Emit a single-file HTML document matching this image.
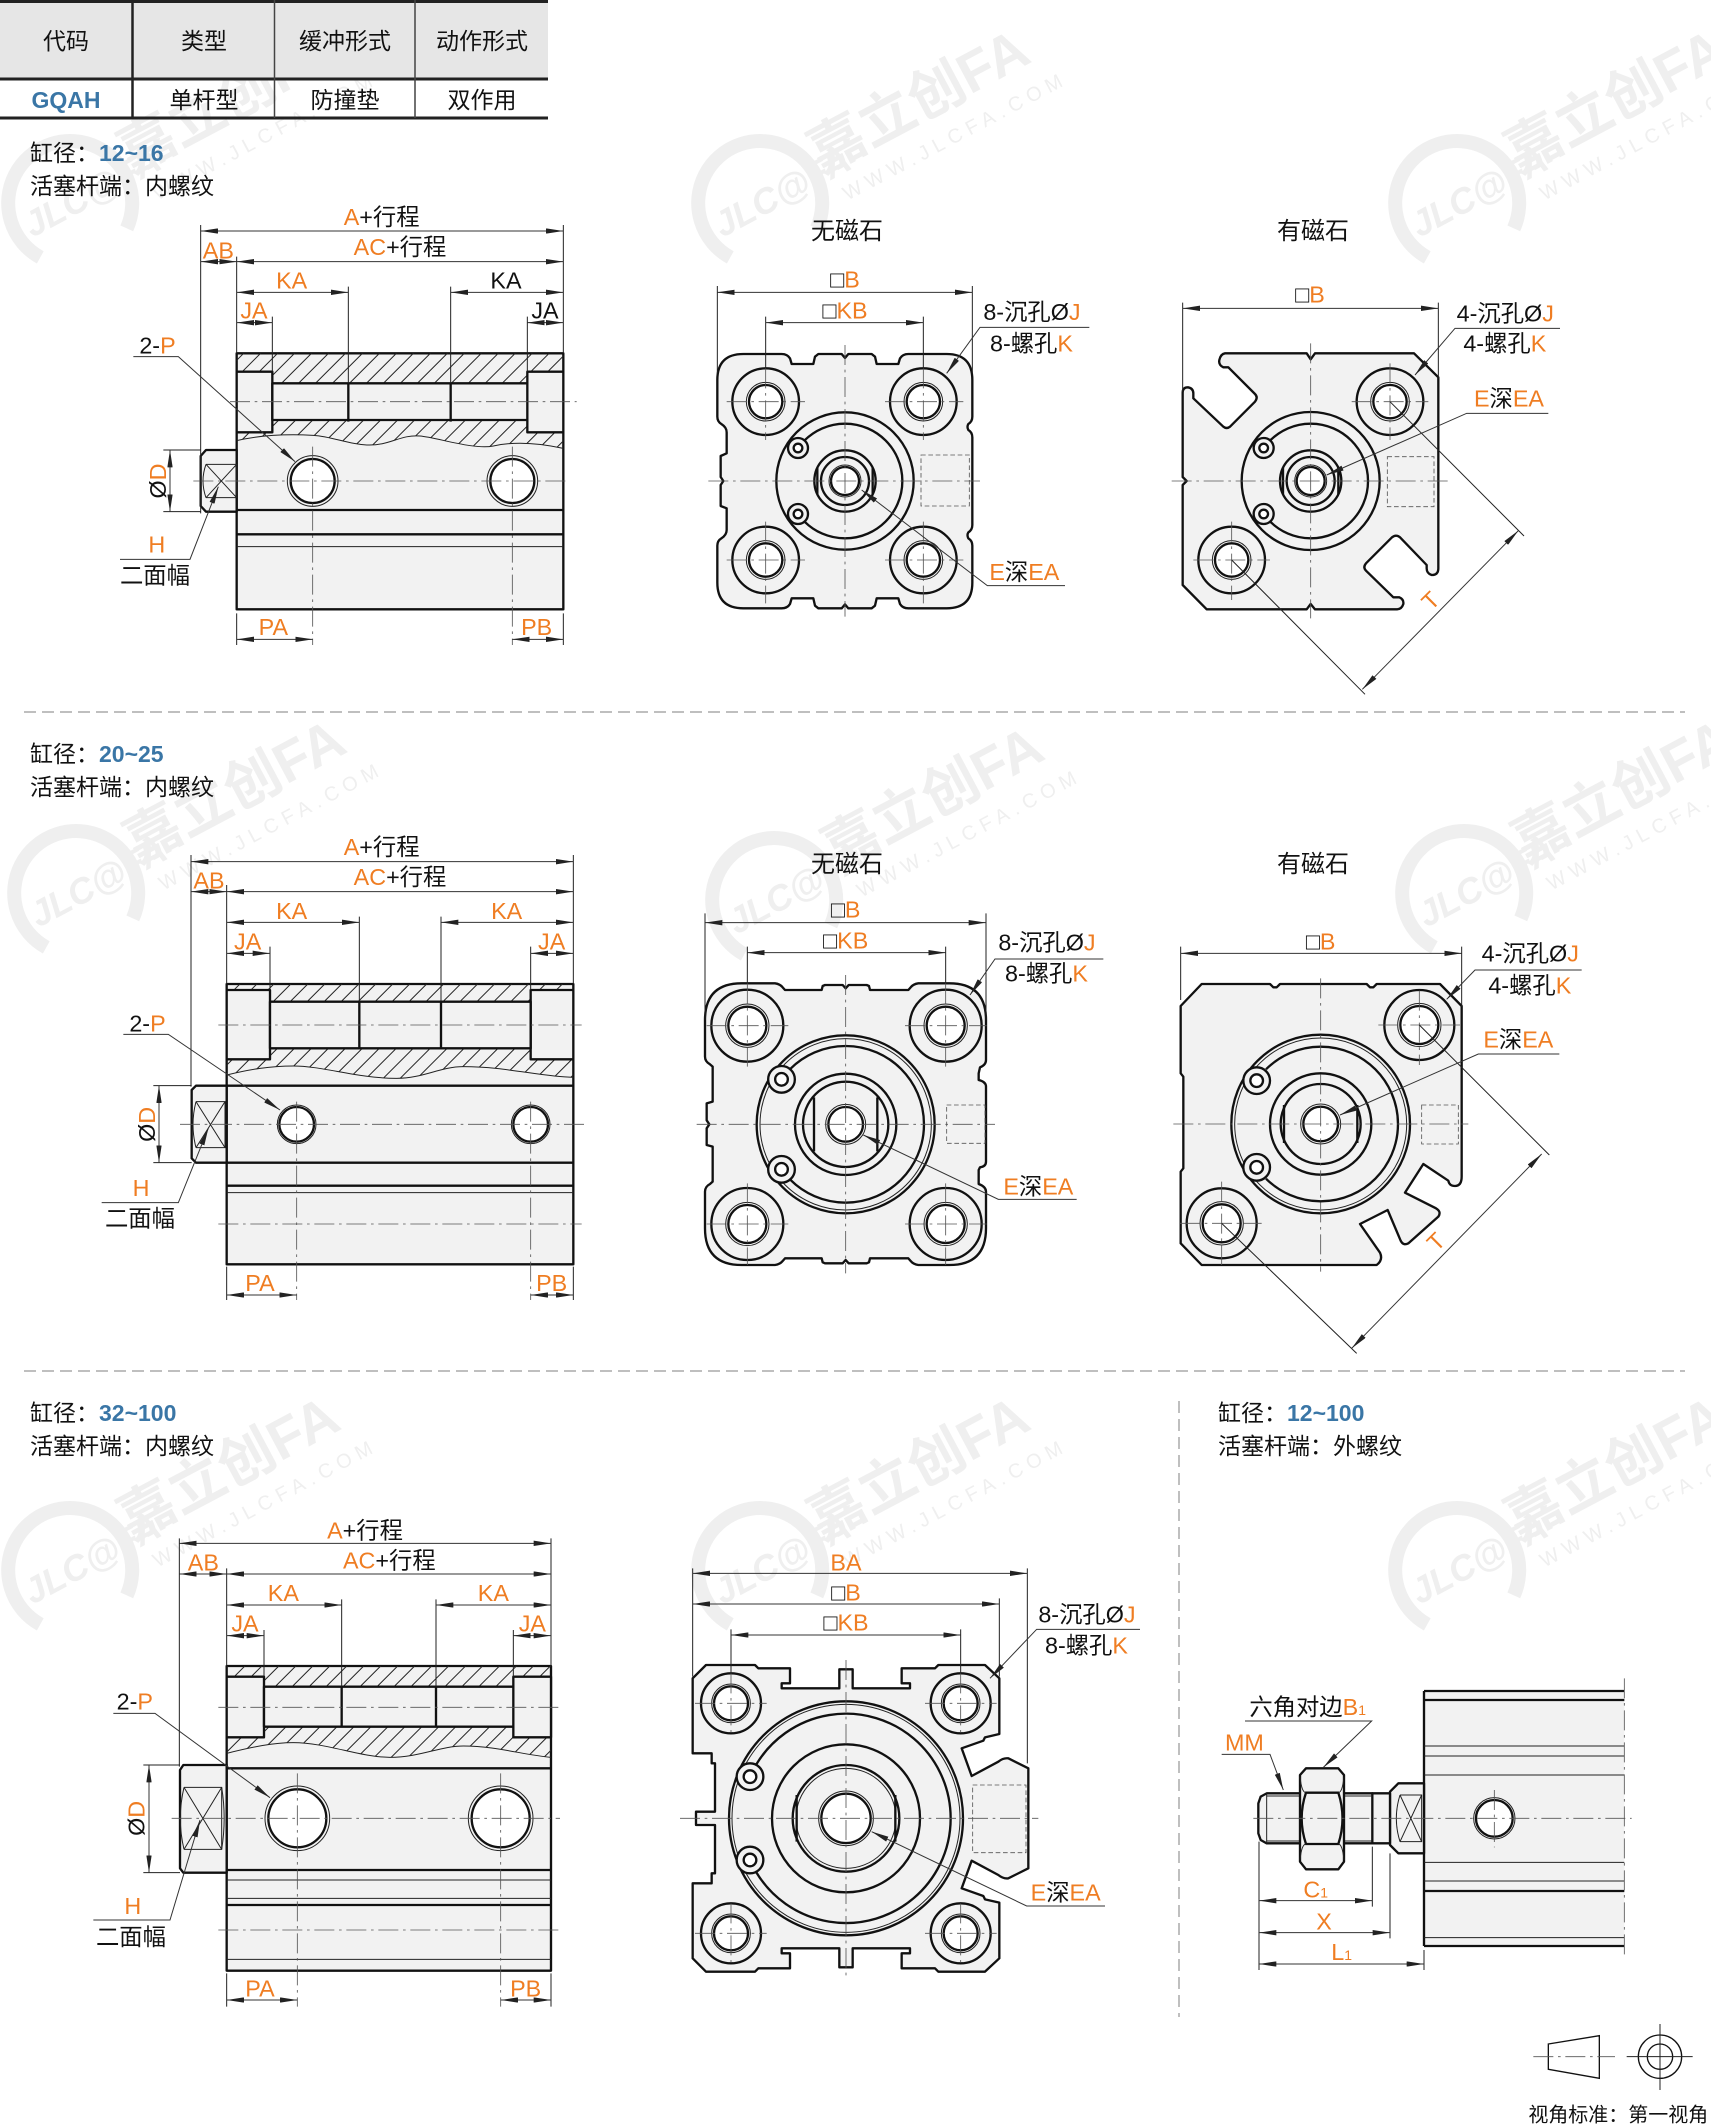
<!DOCTYPE html>
<html><head><meta charset="utf-8">
<style>
html,body{margin:0;padding:0;background:#fff;}
svg{display:block}
.o{fill:#f2f2f2;stroke:#111;stroke-width:7;stroke-linejoin:round}
.k{fill:none;stroke:#111;stroke-width:7}
.w{fill:#fff;stroke:#111;stroke-width:7}
.th{fill:none;stroke:#222;stroke-width:3}
.cl{fill:none;stroke:#555;stroke-width:2.5;stroke-dasharray:60 14 8 14}
.dash{fill:none;stroke:#555;stroke-width:2.5;stroke-dasharray:14 8}
.dm{fill:none;stroke:#333;stroke-width:3;marker-start:url(#ar);marker-end:url(#ar)}
.ld{fill:none;stroke:#333;stroke-width:3;marker-end:url(#ar)}
text{font-family:"Liberation Sans","Noto Sans CJK SC",sans-serif;fill:#111}
.L{font-size:70px}
.or{fill:#ef7d22}
.bl{fill:#3a76a6}
.wm text{fill:#efefef}
</style></head><body>
<svg width="1711" height="2127" viewBox="0 0 1711 2127" xmlns="http://www.w3.org/2000/svg">
<defs>
<marker id="ar" viewBox="0 0 52 16" refX="52" refY="8" markerWidth="52" markerHeight="16" orient="auto-start-reverse" markerUnits="userSpaceOnUse"><path d="M0,0 L52,8 L0,16 Z" fill="#222"/></marker>
<pattern id="hatch" patternUnits="userSpaceOnUse" width="36" height="36" patternTransform="rotate(45)"><line x1="18" y1="0" x2="18" y2="36" stroke="#222" stroke-width="3"/></pattern>
</defs>

<!-- watermarks -->
<g class="wm">
<g transform="translate(68,203) rotate(-28)"><path d="M-50,35 A62,62 0 1 1 40,50" fill="none" stroke="#efefef" stroke-width="14"/><text x="-48" y="14" font-size="36" font-weight="bold" font-style="italic">JLC@FA</text><text x="70" y="4" font-size="56" font-weight="bold">嘉立创FA</text><text x="80" y="40" font-size="20" letter-spacing="6">WWW.JLCFA.COM</text></g>
<g transform="translate(758,203) rotate(-28)"><path d="M-50,35 A62,62 0 1 1 40,50" fill="none" stroke="#efefef" stroke-width="14"/><text x="-48" y="14" font-size="36" font-weight="bold" font-style="italic">JLC@FA</text><text x="70" y="4" font-size="56" font-weight="bold">嘉立创FA</text><text x="80" y="40" font-size="20" letter-spacing="6">WWW.JLCFA.COM</text></g>
<g transform="translate(1455,203) rotate(-28)"><path d="M-50,35 A62,62 0 1 1 40,50" fill="none" stroke="#efefef" stroke-width="14"/><text x="-48" y="14" font-size="36" font-weight="bold" font-style="italic">JLC@FA</text><text x="70" y="4" font-size="56" font-weight="bold">嘉立创FA</text><text x="80" y="40" font-size="20" letter-spacing="6">WWW.JLCFA.COM</text></g>
<g transform="translate(74,893) rotate(-28)"><path d="M-50,35 A62,62 0 1 1 40,50" fill="none" stroke="#efefef" stroke-width="14"/><text x="-48" y="14" font-size="36" font-weight="bold" font-style="italic">JLC@FA</text><text x="70" y="4" font-size="56" font-weight="bold">嘉立创FA</text><text x="80" y="40" font-size="20" letter-spacing="6">WWW.JLCFA.COM</text></g>
<g transform="translate(772,900) rotate(-28)"><path d="M-50,35 A62,62 0 1 1 40,50" fill="none" stroke="#efefef" stroke-width="14"/><text x="-48" y="14" font-size="36" font-weight="bold" font-style="italic">JLC@FA</text><text x="70" y="4" font-size="56" font-weight="bold">嘉立创FA</text><text x="80" y="40" font-size="20" letter-spacing="6">WWW.JLCFA.COM</text></g>
<g transform="translate(1462,893) rotate(-28)"><path d="M-50,35 A62,62 0 1 1 40,50" fill="none" stroke="#efefef" stroke-width="14"/><text x="-48" y="14" font-size="36" font-weight="bold" font-style="italic">JLC@FA</text><text x="70" y="4" font-size="56" font-weight="bold">嘉立创FA</text><text x="80" y="40" font-size="20" letter-spacing="6">WWW.JLCFA.COM</text></g>
<g transform="translate(68,1570) rotate(-28)"><path d="M-50,35 A62,62 0 1 1 40,50" fill="none" stroke="#efefef" stroke-width="14"/><text x="-48" y="14" font-size="36" font-weight="bold" font-style="italic">JLC@FA</text><text x="70" y="4" font-size="56" font-weight="bold">嘉立创FA</text><text x="80" y="40" font-size="20" letter-spacing="6">WWW.JLCFA.COM</text></g>
<g transform="translate(758,1570) rotate(-28)"><path d="M-50,35 A62,62 0 1 1 40,50" fill="none" stroke="#efefef" stroke-width="14"/><text x="-48" y="14" font-size="36" font-weight="bold" font-style="italic">JLC@FA</text><text x="70" y="4" font-size="56" font-weight="bold">嘉立创FA</text><text x="80" y="40" font-size="20" letter-spacing="6">WWW.JLCFA.COM</text></g>
<g transform="translate(1455,1570) rotate(-28)"><path d="M-50,35 A62,62 0 1 1 40,50" fill="none" stroke="#efefef" stroke-width="14"/><text x="-48" y="14" font-size="36" font-weight="bold" font-style="italic">JLC@FA</text><text x="70" y="4" font-size="56" font-weight="bold">嘉立创FA</text><text x="80" y="40" font-size="20" letter-spacing="6">WWW.JLCFA.COM</text></g>
</g>

<!-- table -->
<rect x="0" y="0" width="548" height="79" fill="#e6e6e6"/>
<path d="M0,1.5H548M0,79H548M0,118H548" stroke="#222" stroke-width="3"/>
<path d="M132.5,0V118" stroke="#222" stroke-width="2.5"/>
<path d="M274.5,0V118M415,0V118" stroke="#444" stroke-width="1.5"/>
<g font-size="23" text-anchor="middle">
<text x="66" y="49">代码</text><text x="204" y="49">类型</text><text x="345" y="49">缓冲形式</text><text x="482" y="49">动作形式</text>
<text x="66" y="108" class="bl" font-weight="bold">GQAH</text><text x="204" y="108">单杆型</text><text x="345" y="108">防撞垫</text><text x="482" y="108">双作用</text>
</g>

<!-- headings -->
<g font-size="23">
<text x="30" y="161">缸径：<tspan class="bl" font-weight="bold">12~16</tspan></text>
<text x="30" y="194">活塞杆端：内螺纹</text>
<text x="30" y="762">缸径：<tspan class="bl" font-weight="bold">20~25</tspan></text>
<text x="30" y="795">活塞杆端：内螺纹</text>
<text x="30" y="1421">缸径：<tspan class="bl" font-weight="bold">32~100</tspan></text>
<text x="30" y="1454">活塞杆端：内螺纹</text>
<text x="1218" y="1421">缸径：<tspan class="bl" font-weight="bold">12~100</tspan></text>
<text x="1218" y="1454">活塞杆端：外螺纹</text>
</g>
<g font-size="24" text-anchor="middle">
<text x="847" y="239">无磁石</text><text x="1313" y="239">有磁石</text>
<text x="847" y="872">无磁石</text><text x="1313" y="872">有磁石</text>
</g>

<!-- separators -->
<path d="M24,712H1685M24,1371H1685" stroke="#aaa" stroke-width="1.5" stroke-dasharray="12 6"/>
<path d="M1179,1401V2017" stroke="#aaa" stroke-width="1.5" stroke-dasharray="12 6"/>

<!-- ============ SIDE VIEW 1 ============ -->
<g transform="translate(100,200) scale(0.333333)">
<rect x="410" y="460" width="980" height="768" class="o"/>
<path d="M410,460H1390V745C1330,732 1250,722 1180,738C1120,750 1010,712 960,708C900,703 870,738 800,735C740,732 700,710 640,706C560,702 480,705 410,722Z" fill="url(#hatch)"/>
<path d="M410,722C480,705 560,702 640,706C700,710 740,732 800,735C870,738 900,703 960,708C1010,712 1120,750 1180,738C1250,722 1330,732 1390,745" class="th"/>
<rect x="410" y="515" width="107" height="182" class="o"/>
<rect x="1282" y="515" width="108" height="182" class="o"/>
<rect x="517" y="550" width="765" height="110" class="o"/>
<path d="M745,550V665M1052,550V665" class="k"/>
<path d="M410,930H1390M410,1003H1390" class="k" stroke-width="6"/>
<path d="M410,1040H1390" class="th"/>
<circle cx="638" cy="843" r="76" class="th"/><circle cx="638" cy="843" r="66" class="w"/>
<circle cx="1237" cy="843" r="76" class="th"/><circle cx="1237" cy="843" r="66" class="w"/>
<path d="M410,750H318L302,768V918L318,935H410Z" class="o"/>
<path d="M318,793H410V893H318" class="th"/><path d="M318,793Q300,843 318,893" class="th"/>
<path d="M318,793L410,893M318,893L410,793" class="th"/>
<path d="M390,605H1430M280,843H1410M638,740V1335M1237,740V1335" class="cl"/>
<path d="M302,75V940M410,170V460M1390,75V460M745,260V550M1052,260V550M517,350V515M1282,350V515M410,1240V1335M1390,1240V1335M190,750H302M190,935H302" class="th"/>
<path d="M302,93H1390" class="dm"/>
<text x="845" y="75" text-anchor="middle" class="L"><tspan class="or">A</tspan>+行程</text>
<path d="M410,185H1390" class="dm"/>
<text x="900" y="165" text-anchor="middle" class="L"><tspan class="or">AC</tspan>+行程</text>
<path d="M302,185H410" class="dm"/>
<text x="355" y="175" text-anchor="middle" class="L or">AB</text>
<path d="M410,277H745" class="dm"/><text x="575" y="265" text-anchor="middle" class="L or">KA</text>
<path d="M1052,277H1390" class="dm"/><text x="1218" y="265" text-anchor="middle" class="L">KA</text>
<path d="M410,368H517" class="dm"/><text x="462" y="355" text-anchor="middle" class="L or">JA</text>
<path d="M1282,368H1390" class="dm"/><text x="1335" y="355" text-anchor="middle" class="L">JA</text>
<path d="M410,1318H638" class="dm"/><text x="520" y="1305" text-anchor="middle" class="L or">PA</text>
<path d="M1237,1318H1390" class="dm"/><text x="1310" y="1305" text-anchor="middle" class="L or">PB</text>
<path d="M210,750V935" class="dm"/>
<text transform="translate(198,843) rotate(-90)" text-anchor="middle" class="L">Ø<tspan class="or">D</tspan></text>
<text x="118" y="460" class="L">2-<tspan class="or">P</tspan></text>
<path d="M100,470H235L585,785" class="ld"/>
<text x="145" y="1058" class="L or">H</text>
<text x="60" y="1150" class="L">二面幅</text>
<path d="M60,1078H270L355,860" class="ld"/>
</g>

<!-- ============ FRONT 1a (无磁石) ============ -->
<g transform="translate(700,200) scale(0.333333)">
<path class="o" d="M130,462 L245,462 Q262,462 270,475 L275,492 L340,492 L345,470 L355,462 L425,462 L435,474 L445,462 L515,462 L525,470 L530,492 L595,492 L600,475 Q608,462 625,462 L740,462 Q817,462 817,540 L817,650 Q817,665 805,672 Q800,680 805,690 Q817,697 817,712 L817,975 Q817,990 805,997 Q800,1005 805,1015 Q817,1022 817,1037 L817,1148 Q817,1225 740,1225 L625,1225 Q608,1225 600,1212 L595,1195 L530,1195 L525,1217 L515,1225 L445,1225 L435,1213 L425,1225 L355,1225 L345,1217 L340,1195 L275,1195 L270,1212 Q262,1225 245,1225 L130,1225 Q52,1225 52,1148 L52,1037 Q52,1022 64,1015 Q80,1005 80,990 L80,925 L62,918 L62,855 L70,843 L62,831 L62,768 L80,760 L80,697 Q80,682 64,672 Q52,665 52,650 L52,540 Q52,462 130,462 Z"/>
<g class="k"><circle cx="197" cy="605" r="100"/><circle cx="670" cy="605" r="100"/><circle cx="197" cy="1080" r="100"/><circle cx="670" cy="1080" r="100"/></g>
<g class="th"><circle cx="197" cy="605" r="58"/><circle cx="670" cy="605" r="58"/><circle cx="197" cy="1080" r="58"/><circle cx="670" cy="1080" r="58"/></g>
<g class="w"><circle cx="197" cy="605" r="50"/><circle cx="670" cy="605" r="50"/><circle cx="197" cy="1080" r="50"/><circle cx="670" cy="1080" r="50"/></g>
<circle cx="435" cy="843" r="206" class="k"/>
<path class="k" d="M313.4,721.4 A172,172 0 1 1 313.4,964.6"/>
<circle cx="294" cy="744" r="30" class="o"/><circle cx="294" cy="744" r="13" class="w" stroke-width="5"/>
<circle cx="294" cy="942" r="30" class="o"/><circle cx="294" cy="942" r="13" class="w" stroke-width="5"/>
<circle cx="435" cy="843" r="92" class="k"/>
<path d="M352,803V883M518,803V883" class="k"/>
<circle cx="435" cy="843" r="72" class="k"/>
<circle cx="435" cy="843" r="48" class="th"/>
<circle cx="435" cy="843" r="42" class="w"/>
<rect x="663" y="765" width="145" height="153" class="dash"/>
<path d="M25,843H840M435,435V1250M80,605H315M555,605H790M80,1080H315M555,1080H790M197,505V720M197,965V1210M670,505V720M670,965V1210" class="cl"/>
<path d="M52,258V520M817,258V520M197,350V505M670,350V505" class="th"/>
<path d="M52,277H817" class="dm"/>
<text x="435" y="262" text-anchor="middle" class="L">□<tspan class="or">B</tspan></text>
<path d="M197,368H670" class="dm"/>
<text x="435" y="355" text-anchor="middle" class="L">□<tspan class="or">KB</tspan></text>
<text x="850" y="360" class="L">8-沉孔Ø<tspan class="or">J</tspan></text>
<text x="870" y="455" class="L">8-螺孔<tspan class="or">K</tspan></text>
<path d="M1168,382H840L740,520" class="ld"/>
<text x="868" y="1140" class="L"><tspan class="or">E</tspan>深<tspan class="or">EA</tspan></text>
<path d="M1095,1157H862L485,870" class="ld"/>
</g>

<!-- ============ FRONT 1b (有磁石) ============ -->
<g transform="translate(1160,260) scale(0.333333)">
<path class="o" d="M195,280 L440,280 L452,298 L465,280 L762,280 L835,352 L835,925 Q835,945 815,945 Q800,940 800,925 L800,915 L720,832 Q708,822 696,832 L618,910 Q608,922 618,932 L700,1012 L718,1012 Q732,1018 730,1032 Q725,1048 710,1048 L465,1048 L452,1032 L440,1048 L140,1048 L68,975 L68,675 L80,663 L68,651 L68,398 Q68,382 84,382 Q100,385 100,400 L100,415 L190,500 Q200,508 210,500 L285,425 Q295,412 285,402 L205,322 L190,322 Q175,315 178,300 Q182,282 195,280 Z"/>
<circle cx="690" cy="425" r="100" class="k"/><circle cx="215" cy="900" r="100" class="k"/>
<circle cx="690" cy="425" r="58" class="th"/><circle cx="215" cy="900" r="58" class="th"/>
<circle cx="690" cy="425" r="50" class="w"/><circle cx="215" cy="900" r="50" class="w"/>
<circle cx="452" cy="663" r="207" class="k"/>
<path class="k" d="M330.4,541.4 A172,172 0 1 1 330.4,784.6"/>
<circle cx="311" cy="564" r="30" class="o"/><circle cx="311" cy="564" r="13" class="w" stroke-width="5"/>
<circle cx="311" cy="762" r="30" class="o"/><circle cx="311" cy="762" r="13" class="w" stroke-width="5"/>
<circle cx="452" cy="663" r="92" class="k"/>
<path d="M369,623V703M535,623V703" class="k"/>
<circle cx="452" cy="663" r="72" class="k"/>
<circle cx="452" cy="663" r="48" class="th"/>
<circle cx="452" cy="663" r="42" class="w"/>
<rect x="682" y="590" width="140" height="150" class="dash"/>
<path d="M35,663H870M452,250V1075M575,425H805M690,310V540M100,900H330M215,785V1020" class="cl"/>
<path d="M68,128V395M835,128V355M690,425L1092,828M215,900L615,1303" class="th"/>
<path d="M68,145H835" class="dm"/>
<text x="450" y="128" text-anchor="middle" class="L">□<tspan class="or">B</tspan></text>
<path d="M1075,812L607,1288" class="dm"/>
<text transform="translate(829,1039) rotate(-45)" text-anchor="middle" class="L or">T</text>
<text x="890" y="185" class="L">4-沉孔Ø<tspan class="or">J</tspan></text>
<text x="910" y="275" class="L">4-螺孔<tspan class="or">K</tspan></text>
<path d="M1200,205H885L765,345" class="ld"/>
<text x="942" y="440" class="L"><tspan class="or">E</tspan>深<tspan class="or">EA</tspan></text>
<path d="M1165,460H920L500,645" class="ld"/>
</g>

<!-- ============ SIDE VIEW 2 ============ -->
<g transform="translate(90,820) scale(0.333333)">
<rect x="410" y="492" width="1040" height="841" class="o"/>
<path d="M410,492H1450V772C1350,770 1250,740 1120,740C1050,740 1000,775 920,775C800,775 700,738 610,738C540,738 480,748 410,765Z" fill="url(#hatch)"/>
<path d="M410,765C480,748 540,738 610,738C700,738 800,775 920,775C1000,775 1050,740 1120,740C1250,740 1350,770 1450,772" class="th"/>
<rect x="410" y="510" width="130" height="208" class="o"/>
<rect x="1322" y="510" width="128" height="208" class="o"/>
<rect x="540" y="545" width="782" height="140" class="o"/>
<path d="M808,545V685M1053,545V685" class="k"/>
<path d="M410,797H1450M410,1028H1450M410,1097H1450" class="k" stroke-width="6"/>
<path d="M410,1118H1450" class="th"/>
<circle cx="620" cy="913" r="58" class="th"/><circle cx="620" cy="913" r="52" class="w"/>
<circle cx="1322" cy="913" r="58" class="th"/><circle cx="1322" cy="913" r="52" class="w"/>
<path d="M410,797H318L305,810V1015L318,1028H410Z" class="o"/>
<path d="M318,845H405V983H318" class="th"/><path d="M318,845Q300,914 318,983" class="th"/>
<path d="M318,845L405,983M318,983L405,845" class="th"/>
<path d="M385,615H1475M270,913H1490M385,1212H1475M620,845V1440M1322,845V1440" class="cl"/>
<path d="M303,105V800M410,195V492M1450,105V492M808,290V545M1053,290V545M540,380V510M1322,380V510M410,1340V1440M1450,1340V1440M190,797H305M190,1028H305" class="th"/>
<path d="M303,125H1450" class="dm"/>
<text x="875" y="105" text-anchor="middle" class="L"><tspan class="or">A</tspan>+行程</text>
<path d="M410,215H1450" class="dm"/>
<text x="930" y="195" text-anchor="middle" class="L"><tspan class="or">AC</tspan>+行程</text>
<path d="M303,215H410" class="dm"/>
<text x="357" y="205" text-anchor="middle" class="L or">AB</text>
<path d="M410,307H808" class="dm"/><text x="605" y="297" text-anchor="middle" class="L or">KA</text>
<path d="M1053,307H1450" class="dm"/><text x="1250" y="297" text-anchor="middle" class="L or">KA</text>
<path d="M410,400H540" class="dm"/><text x="473" y="388" text-anchor="middle" class="L or">JA</text>
<path d="M1322,400H1450" class="dm"/><text x="1385" y="388" text-anchor="middle" class="L or">JA</text>
<path d="M410,1425H620" class="dm"/><text x="510" y="1413" text-anchor="middle" class="L or">PA</text>
<path d="M1322,1425H1450" class="dm"/><text x="1385" y="1413" text-anchor="middle" class="L or">PB</text>
<path d="M207,797V1028" class="dm"/>
<text transform="translate(195,913) rotate(-90)" text-anchor="middle" class="L">Ø<tspan class="or">D</tspan></text>
<text x="118" y="635" class="L">2-<tspan class="or">P</tspan></text>
<path d="M100,643H235L570,870" class="ld"/>
<text x="128" y="1128" class="L or">H</text>
<text x="45" y="1220" class="L">二面幅</text>
<path d="M35,1148H265L355,925" class="ld"/>
</g>

<!-- ============ FRONT 2a (无磁石) ============ -->
<g transform="translate(690,880) scale(0.333333)">
<path class="o" d="M155,310 L255,310 Q270,312 278,322 L285,330 L395,330 L398,318 L405,315 L458,315 L467,325 L476,315 L530,315 L537,318 L540,330 L655,330 L662,322 Q670,312 685,310 L778,310 Q888,310 888,420 L888,540 Q888,555 870,562 L866,580 L866,600 Q888,605 888,620 L888,845 Q888,860 870,862 L866,870 L866,912 Q888,920 888,935 L888,1045 Q888,1155 778,1155 L685,1155 Q670,1153 662,1143 L655,1135 L540,1135 L537,1147 L530,1150 L476,1150 L467,1140 L458,1150 L405,1150 L398,1147 L395,1135 L285,1135 L278,1143 Q270,1153 255,1155 L155,1155 Q45,1155 45,1045 L45,935 Q45,920 60,912 L68,905 L68,800 L50,795 L50,745 L58,733 L50,721 L50,670 L68,665 L68,560 L60,553 Q45,545 45,530 L45,420 Q45,310 155,310 Z"/>
<g class="k"><circle cx="172" cy="437" r="108"/><circle cx="767" cy="437" r="108"/><circle cx="172" cy="1032" r="108"/><circle cx="767" cy="1032" r="108"/></g>
<g class="th"><circle cx="172" cy="437" r="65"/><circle cx="767" cy="437" r="65"/><circle cx="172" cy="1032" r="65"/><circle cx="767" cy="1032" r="65"/></g>
<g class="w"><circle cx="172" cy="437" r="57"/><circle cx="767" cy="437" r="57"/><circle cx="172" cy="1032" r="57"/><circle cx="767" cy="1032" r="57"/></g>
<circle cx="467" cy="733" r="267" class="k"/>
<circle cx="467" cy="733" r="257" class="th"/>
<path class="k" d="M300.8,566.8 A235,235 0 1 1 300.8,899.2"/>
<circle cx="274.5" cy="598" r="40" class="o"/><circle cx="274.5" cy="598" r="19" class="w" stroke-width="5"/>
<circle cx="274.5" cy="868" r="40" class="o"/><circle cx="274.5" cy="868" r="19" class="w" stroke-width="5"/>
<circle cx="467" cy="733" r="152" class="k"/>
<circle cx="467" cy="733" r="128" class="k"/>
<path d="M372,652V814M562,652V814" class="k"/>
<circle cx="467" cy="733" r="60" class="th"/>
<circle cx="467" cy="733" r="52" class="w"/>
<rect x="770" y="675" width="115" height="115" class="dash"/>
<path d="M20,733H915M467,285V1180M50,437H295M645,437H890M50,1032H295M645,1032H890M172,310V560M172,910V1155M767,310V560M767,910V1155" class="cl"/>
<path d="M45,100V420M888,100V420M172,200V310M767,200V310" class="th"/>
<path d="M45,128H888" class="dm"/>
<text x="467" y="112" text-anchor="middle" class="L">□<tspan class="or">B</tspan></text>
<path d="M172,218H767" class="dm"/>
<text x="467" y="205" text-anchor="middle" class="L">□<tspan class="or">KB</tspan></text>
<text x="925" y="212" class="L">8-沉孔Ø<tspan class="or">J</tspan></text>
<text x="945" y="305" class="L">8-螺孔<tspan class="or">K</tspan></text>
<path d="M1240,237H915L840,345" class="ld"/>
<text x="940" y="943" class="L"><tspan class="or">E</tspan>深<tspan class="or">EA</tspan></text>
<path d="M1160,958H925L520,765" class="ld"/>
</g>

<!-- ============ FRONT 2b (有磁石) ============ -->
<g transform="translate(1160,900) scale(0.333333)">
<path class="o" d="M125,252 L330,252 L340,262 L350,262 L360,252 L620,252 L630,262 L640,262 L650,252 L840,252 L905,318 L905,830 Q905,858 885,858 Q868,858 865,842 L790,792 L735,878 L828,925 Q845,935 835,950 L745,1030 Q730,1038 722,1022 L683,930 L600,972 L660,1058 Q670,1080 650,1095 L125,1095 L62,1030 L62,815 L70,805 L70,530 L62,520 L62,318 Z"/>
<circle cx="778" cy="375" r="105" class="k"/><circle cx="185" cy="970" r="105" class="k"/>
<circle cx="778" cy="375" r="65" class="th"/><circle cx="185" cy="970" r="65" class="th"/>
<circle cx="778" cy="375" r="57" class="w"/><circle cx="185" cy="970" r="57" class="w"/>
<circle cx="482" cy="672" r="268" class="k"/>
<circle cx="482" cy="672" r="258" class="th"/>
<path class="k" d="M318,508 A232,232 0 1 1 318,836"/>
<circle cx="290" cy="542" r="40" class="o"/><circle cx="290" cy="542" r="19" class="w" stroke-width="5"/>
<circle cx="290" cy="802" r="40" class="o"/><circle cx="290" cy="802" r="19" class="w" stroke-width="5"/>
<circle cx="482" cy="672" r="152" class="k"/>
<circle cx="482" cy="672" r="120" class="k"/>
<path d="M372,615V729M592,615V729" class="k"/>
<circle cx="482" cy="672" r="60" class="th"/>
<circle cx="482" cy="672" r="52" class="w"/>
<rect x="785" y="615" width="110" height="117" class="dash"/>
<path d="M40,672H925M482,235V1115M655,375H900M778,272V495M60,970H305M185,845V1095" class="cl"/>
<path d="M62,140V300M905,140V320M778,375L1168,765M185,970L590,1360" class="th"/>
<path d="M62,160H905" class="dm"/>
<text x="482" y="148" text-anchor="middle" class="L">□<tspan class="or">B</tspan></text>
<path d="M1145,762L575,1345" class="dm"/>
<text transform="translate(845,1042) rotate(-45)" text-anchor="middle" class="L or">T</text>
<text x="965" y="185" class="L">4-沉孔Ø<tspan class="or">J</tspan></text>
<text x="985" y="280" class="L">4-螺孔<tspan class="or">K</tspan></text>
<path d="M1265,210H945L860,298" class="ld"/>
<text x="970" y="443" class="L"><tspan class="or">E</tspan>深<tspan class="or">EA</tspan></text>
<path d="M1198,462H955L540,645" class="ld"/>
</g>

<!-- ============ SIDE VIEW 3 ============ -->
<g transform="translate(80,1500) scale(0.333333)">
<rect x="440" y="498" width="973" height="914" class="o"/>
<path d="M440,498H1413V772C1330,765 1250,738 1150,738C1080,738 1020,772 930,772C840,772 740,728 640,728C580,728 520,740 440,760Z" fill="url(#hatch)"/>
<path d="M440,760C520,740 580,728 640,728C740,728 840,772 930,772C1020,772 1080,738 1150,738C1250,738 1330,765 1413,772" class="th"/>
<rect x="440" y="530" width="112" height="182" class="o"/>
<rect x="1300" y="530" width="113" height="182" class="o"/>
<rect x="552" y="560" width="748" height="120" class="o"/>
<path d="M785,560V680M1068,560V680" class="k"/>
<path d="M440,805H1413M440,1110H1413M440,1215H1413" class="k" stroke-width="6"/>
<path d="M440,1140H1413M440,1195H1413M440,1378H1413" class="th"/>
<circle cx="652" cy="955" r="97" class="th"/><circle cx="652" cy="955" r="87" class="w"/>
<circle cx="1262" cy="955" r="97" class="th"/><circle cx="1262" cy="955" r="87" class="w"/>
<path d="M440,795H310L300,810V1105L310,1118H440Z" class="o"/>
<path d="M312,862H425V1048H312" class="th"/><path d="M312,862Q290,955 312,1048M425,862Q440,955 425,1048" class="th"/>
<path d="M312,862L425,1048M312,1048L425,862" class="th"/>
<path d="M415,622H1440M275,955H1440M415,1290H1440M652,820V1520M1262,820V1520" class="cl"/>
<path d="M298,115V800M440,205V498M1413,115V498M785,298V560M1068,298V560M552,390V530M1300,390V530M440,1420V1520M1413,1420V1520M190,795H300M190,1118H300" class="th"/>
<path d="M298,130H1413" class="dm"/>
<text x="855" y="115" text-anchor="middle" class="L"><tspan class="or">A</tspan>+行程</text>
<path d="M440,222H1413" class="dm"/>
<text x="928" y="205" text-anchor="middle" class="L"><tspan class="or">AC</tspan>+行程</text>
<path d="M298,222H440" class="dm"/>
<text x="370" y="212" text-anchor="middle" class="L or">AB</text>
<path d="M440,315H785" class="dm"/><text x="610" y="303" text-anchor="middle" class="L or">KA</text>
<path d="M1068,315H1413" class="dm"/><text x="1240" y="303" text-anchor="middle" class="L or">KA</text>
<path d="M440,407H552" class="dm"/><text x="495" y="395" text-anchor="middle" class="L or">JA</text>
<path d="M1300,407H1413" class="dm"/><text x="1357" y="395" text-anchor="middle" class="L or">JA</text>
<path d="M440,1500H652" class="dm"/><text x="540" y="1490" text-anchor="middle" class="L or">PA</text>
<path d="M1262,1500H1413" class="dm"/><text x="1337" y="1490" text-anchor="middle" class="L or">PB</text>
<path d="M207,795V1118" class="dm"/>
<text transform="translate(193,955) rotate(-90)" text-anchor="middle" class="L">Ø<tspan class="or">D</tspan></text>
<text x="110" y="628" class="L">2-<tspan class="or">P</tspan></text>
<path d="M100,640H225L570,893" class="ld"/>
<text x="133" y="1242" class="L or">H</text>
<text x="48" y="1335" class="L">二面幅</text>
<path d="M40,1260H270L360,960" class="ld"/>
</g>

<!-- ============ FRONT 3 ============ -->
<g transform="translate(670,1530) scale(0.333333)">
<path class="o" d="M108,405 L255,405 L265,415 L360,415 L360,460 L335,460 L335,475 L508,475 L508,418 L548,418 L548,475 L720,475 L720,460 L695,460 L695,415 L795,415 L805,405 L945,405 L988,445 L988,612 L945,622 L940,632 L875,655 L905,738 L985,695 Q1000,683 1015,685 L1075,715 L1075,1015 L1015,1045 Q1000,1047 985,1035 L905,992 L875,1075 L940,1098 L945,1108 L988,1118 L988,1285 L945,1325 L805,1325 L795,1315 L695,1315 L695,1270 L720,1270 L720,1255 L548,1255 L548,1312 L508,1312 L508,1255 L335,1255 L335,1270 L360,1270 L360,1315 L265,1315 L255,1325 L108,1325 L68,1285 L68,1060 L125,1060 L125,1030 L135,1030 L135,885 L78,885 L78,845 L135,845 L135,700 L125,700 L125,670 L68,670 L68,445 Z"/>
<g class="k"><circle cx="183" cy="520" r="90"/><circle cx="872" cy="520" r="90"/><circle cx="183" cy="1210" r="90"/><circle cx="872" cy="1210" r="90"/></g>
<g class="th"><circle cx="183" cy="520" r="58"/><circle cx="872" cy="520" r="58"/><circle cx="183" cy="1210" r="58"/><circle cx="872" cy="1210" r="58"/></g>
<g class="w"><circle cx="183" cy="520" r="51"/><circle cx="872" cy="520" r="51"/><circle cx="183" cy="1210" r="51"/><circle cx="872" cy="1210" r="51"/></g>
<circle cx="528" cy="865" r="351" class="k"/>
<circle cx="528" cy="865" r="342" class="th"/>
<path class="k" d="M258.8,703.3 A314,314 0 1 1 258.8,1026.7"/>
<circle cx="240" cy="740" r="40" class="o"/><circle cx="240" cy="740" r="19" class="w" stroke-width="5"/>
<circle cx="240" cy="990" r="40" class="o"/><circle cx="240" cy="990" r="19" class="w" stroke-width="5"/>
<circle cx="528" cy="865" r="222" class="k"/>
<circle cx="528" cy="865" r="160" class="k"/>
<circle cx="528" cy="865" r="150" class="th"/>
<path d="M380,795V935M676,795V935" class="k"/>
<circle cx="528" cy="865" r="82" class="th"/>
<circle cx="528" cy="865" r="74" class="w"/>
<rect x="908" y="765" width="160" height="203" class="dash"/>
<path d="M30,865H1105M528,390V1340M75,520H290M765,520H980M75,1210H290M765,1210H980M183,430V610M872,430V610M183,1120V1300M872,1120V1300" class="cl"/>
<path d="M68,115V440M1072,115V700M988,205V440M183,298V430M872,298V430" class="th"/>
<path d="M68,130H1072" class="dm"/>
<text x="528" y="122" text-anchor="middle" class="L or">BA</text>
<path d="M68,222H988" class="dm"/>
<text x="528" y="212" text-anchor="middle" class="L">□<tspan class="or">B</tspan></text>
<path d="M183,315H872" class="dm"/>
<text x="528" y="302" text-anchor="middle" class="L">□<tspan class="or">KB</tspan></text>
<text x="1105" y="278" class="L">8-沉孔Ø<tspan class="or">J</tspan></text>
<text x="1125" y="370" class="L">8-螺孔<tspan class="or">K</tspan></text>
<path d="M1410,298H1100L960,445" class="ld"/>
<text x="1082" y="1112" class="L"><tspan class="or">E</tspan>深<tspan class="or">EA</tspan></text>
<path d="M1305,1128H1070L605,905" class="ld"/>
</g>

<!-- ============ EXTERNAL THREAD VIEW ============ -->
<g transform="translate(1200,1660) scale(0.333333)">
<rect x="672" y="93" width="601" height="765" fill="#f2f2f2"/>
<path d="M672,93H1273M672,120H1273M672,693H1273M672,858H1273M672,93V858" class="k" stroke-width="6"/>
<path d="M672,258H1273M672,288H1273M672,345H1273M672,607H1273M672,663H1273M672,833H1273" class="th"/>
<path d="M1273,55V895" class="cl"/>
<circle cx="883" cy="475" r="62" class="th"/><circle cx="883" cy="475" r="55" class="w"/>
<path d="M672,370H595L570,395V555L595,580H672Z" class="o"/>
<path d="M600,405H665V545H600" class="th"/><path d="M600,405Q578,475 600,545" class="th"/>
<path d="M600,405L665,545M600,545L665,405" class="th"/>
<rect x="517" y="400" width="53" height="150" class="o" stroke-width="5"/>
<path d="M517,400H200L182,410L175,430V520L182,540L200,550H517Z" class="o" stroke-width="5"/>
<path d="M200,408H517M200,543H517M200,400V550" class="th"/>
<path d="M318,325H415L432,345V605L415,628H318L300,605V345Z" class="o" stroke-width="5"/>
<path d="M318,398H415Q440,475 415,552H318Q292,475 318,398Z" class="k" stroke-width="5"/>
<path d="M300,350Q305,398 318,398M432,350Q427,398 415,398M300,600Q305,552 318,552M432,600Q427,552 415,552" class="th"/>
<path d="M160,475H1295M883,390V562" class="cl"/>
<path d="M177,545V930M517,560V740M570,580V835M672,870V930" class="th"/>
<path d="M177,722H517" class="dm"/>
<text x="347" y="712" text-anchor="middle" class="L or">C<tspan font-size="42">1</tspan></text>
<path d="M177,818H570" class="dm"/>
<text x="372" y="808" text-anchor="middle" class="L or">X</text>
<path d="M177,912H672" class="dm"/>
<text x="425" y="900" text-anchor="middle" class="L or">L<tspan font-size="42">1</tspan></text>
<text x="75" y="272" class="L or">MM</text>
<path d="M65,283H210L250,390" class="ld"/>
<text x="148" y="165" class="L">六角对边<tspan class="or">B</tspan><tspan class="or" font-size="42">1</tspan></text>
<path d="M135,183H515L370,322" class="ld"/>
<path d="M1045,1152L1198,1127V1255L1045,1228Z" fill="none" stroke="#111" stroke-width="4"/>
<path d="M1000,1190H1245" class="cl"/>
<circle cx="1380" cy="1190" r="65" fill="none" stroke="#111" stroke-width="4"/>
<circle cx="1380" cy="1190" r="38" fill="none" stroke="#111" stroke-width="4"/>
<path d="M1280,1190H1478M1380,1092V1290" class="th"/>
<text x="985" y="1385" font-size="60">视角标准：第一视角</text>
</g>
</svg>
</body></html>
